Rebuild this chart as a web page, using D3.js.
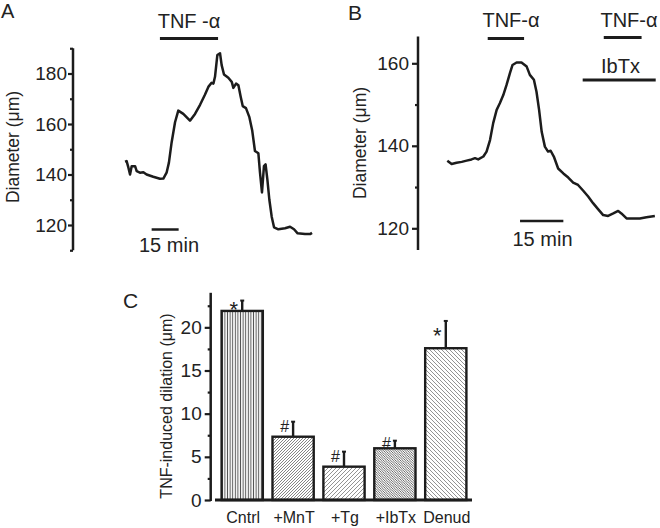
<!DOCTYPE html>
<html>
<head>
<meta charset="utf-8">
<script src="https://cdn.jsdelivr.net/npm/d3@7"></script>
<style>
  body { margin: 0; background: #fff; }
  svg { display: block; font-family: "Liberation Sans", Arial, sans-serif; }
  text { fill: #222; }
</style>
</head>
<body>
<div id="chart"></div>
<script>
// panel A trace: time (min), diameter (um)
var traceA_t = [0, 0.9, 1.9, 2.8, 3.7, 5.6, 6.5, 8.3, 10.2, 12, 15.7, 19.4, 21.3, 23.1, 24.4, 25.9, 27.8, 29.6,
  32.4, 36.1, 38.9, 41.7, 44.4, 46.3, 48.1, 49.1, 50, 51.3, 52.8, 53.7, 55, 57.4, 59.3, 60.2, 61.7, 63,
  64.3, 65.4, 67.2, 69.1, 70.7, 72.2, 74.1, 75, 76.1, 77.2, 78.1, 79.1, 80.2, 81.5, 82.8, 85.2, 88.9,
  91.7, 93.9, 95.9, 100, 102.8, 103.9];
var traceA_v = [145.1, 145.3, 142.7, 140, 143.3, 143.3, 141.3, 140.7, 140.9, 140, 139.1, 138.3, 138.4, 140.7, 144.7, 152.7, 160.7, 165.3,
  164, 161.3, 164, 167.6, 171.6, 174.7, 176.3, 176, 178.7, 187.3, 188, 183.3, 179.6, 178.3, 176.7, 174.3, 176, 175.3,
  170.7, 167.1, 166.3, 162.7, 157.3, 149.3, 148.4, 140.7, 132.9, 143.3, 144, 138, 130, 123.3, 119.1, 118.3, 118.7,
  119.3, 118.3, 116.7, 116.4, 116.4, 116.9];

// panel B trace
var traceB_t = [0, 1.5, 3.2, 5, 6.7, 8.4, 9.6, 10.7, 12.5, 13.6, 14.8, 15.9, 17.1, 18.2, 19.4, 20.5, 21.7, 22.6,
  24, 25.7, 27.5, 28.6, 30, 30.9, 31.8, 32.7, 33.8, 34.9, 35.8, 36.9, 38.4, 40.2, 41.9, 43.6, 45.3, 47.1,
  48.8, 50.5, 52.3, 54, 55.7, 57.5, 59.2, 60.3, 62.1, 64.4, 66.7, 69, 71.9];
var traceB_v = [136.4, 135.6, 135.9, 136.1, 136.4, 136.7, 137, 136.7, 137.4, 138.6, 141.4, 145.5, 148.7, 150.3, 152.3, 154.7, 157.6, 159.6,
  160.2, 160.2, 159.2, 157.2, 156, 153.1, 148.7, 143.4, 139.8, 138.6, 138.8, 137.4, 134.5, 133.3, 132.3, 131.1, 130.5, 129.1,
  127.7, 126.1, 124.6, 123.2, 123, 123.6, 124.2, 123.6, 122.4, 122.4, 122.4, 122.7, 123];

// drug application windows (min)
var tnfA = [19.4, 51.7];
var tnfB1 = [14, 26.6];
var tnfB2 = [54.2, 67.3];
var ibtxB = [46.9, 72.2];
var scaleBarA = [14.8, 29.8];
var scaleBarB = [25.2, 40.2];

// panel C bars
var groups = ["Cntrl", "+MnT", "+Tg", "+IbTx", "Denud"];
var means = [21.9, 7.33, 3.86, 5.99, 17.58];
var errs = [1.2, 1.74, 1.74, 0.88, 3.16];
var marks = ["*", "#", "#", "#", "*"];
var fills = ["pVert", "pFwd", "pFwdWide", "pBack", "pBackWide"];

var ink = "#1c1c1c";

var svg = d3.select("#chart").append("svg")
  .attr("width", 660).attr("height", 528);

// hatch patterns
var defs = svg.append("defs");
function hatch(id, size, d, w, col) {
  var p = defs.append("pattern").attr("id", id)
    .attr("patternUnits", "userSpaceOnUse")
    .attr("width", size).attr("height", size);
  p.append("rect").attr("width", size).attr("height", size).attr("fill", "#fff");
  p.append("path").attr("d", d).attr("stroke", col).attr("stroke-width", w);
}
hatch("pVert", 2.6, "M1.3,0V2.6", 1, "#555");
hatch("pFwd", 3, "M0,3L3,0M-1,1L1,-1M2,4L4,2", 0.8, "#666");
hatch("pFwdWide", 4, "M0,4L4,0M-1,1L1,-1M3,5L5,3", 0.8, "#777");
hatch("pBack", 2.4, "M0,0L2.4,2.4M-1,1.4L1,3.4M1.4,-1L3.4,1", 0.8, "#444");
hatch("pBackWide", 4, "M0,0L4,4M-1,3L1,5M3,-1L5,1", 0.8, "#777");

function styleAxis(g) {
  g.selectAll(".domain").remove();
  g.selectAll("line").attr("stroke", ink).attr("stroke-width", 2.2);
  g.selectAll("text").attr("fill", "#222");
}

// ---------- panel A ----------
var xA = d3.scaleLinear().domain([0, 15]).range([125, 152]);
var yA = d3.scaleLinear().domain([120, 180]).range([225, 73.5]);

svg.append("line").attr("x1", 73).attr("x2", 73)
  .attr("y1", yA(110)).attr("y2", yA(190))
  .attr("stroke", ink).attr("stroke-width", 2.5);
svg.append("g").attr("transform", "translate(73,0)")
  .call(d3.axisLeft(yA).tickValues([120, 140, 160, 180]).tickSize(5).tickPadding(1))
  .attr("font-size", 19).attr("font-family", null)
  .call(styleAxis);
svg.append("g").attr("transform", "translate(73,0)")
  .call(d3.axisLeft(yA).tickValues([110, 130, 150, 170, 190]).tickSize(3).tickFormat(""))
  .call(styleAxis);

svg.append("path")
  .attr("d", d3.line().x(function (d, i) { return xA(traceA_t[i]); })
    .y(function (d) { return yA(d); })(traceA_v))
  .attr("fill", "none").attr("stroke", ink).attr("stroke-width", 2.5)
  .attr("stroke-linejoin", "round");

svg.append("line").attr("x1", xA(tnfA[0])).attr("x2", xA(tnfA[1]))
  .attr("y1", 38.5).attr("y2", 38.5).attr("stroke", ink).attr("stroke-width", 3);
svg.append("text").attr("x", 189).attr("y", 28).attr("text-anchor", "middle")
  .attr("font-size", 20).text("TNF -α");

svg.append("line").attr("x1", xA(scaleBarA[0])).attr("x2", xA(scaleBarA[1]))
  .attr("y1", 229.5).attr("y2", 229.5).attr("stroke", ink).attr("stroke-width", 2.5);
svg.append("text").attr("x", 169).attr("y", 252).attr("text-anchor", "middle")
  .attr("font-size", 20).text("15 min");

svg.append("text").attr("transform", "translate(19,147) rotate(-90)")
  .attr("text-anchor", "middle").attr("font-size", 17.5).text("Diameter (μm)");
svg.append("text").attr("x", 1).attr("y", 18).attr("font-size", 20).text("A");

// ---------- panel B ----------
var xB = d3.scaleLinear().domain([0, 15]).range([447.3, 490.6]);
var yB = d3.scaleLinear().domain([120, 160]).range([228.3, 63.3]);

svg.append("line").attr("x1", 418).attr("x2", 418)
  .attr("y1", 36.5).attr("y2", 250)
  .attr("stroke", ink).attr("stroke-width", 2.5);
svg.append("g").attr("transform", "translate(418,0)")
  .call(d3.axisLeft(yB).tickValues([120, 140, 160]).tickSize(6).tickPadding(3))
  .attr("font-size", 19).attr("font-family", null)
  .call(styleAxis);
svg.append("g").attr("transform", "translate(418,0)")
  .call(d3.axisLeft(yB).tickValues([130, 150]).tickSize(3).tickFormat(""))
  .call(styleAxis);

svg.append("path")
  .attr("d", d3.line().x(function (d, i) { return xB(traceB_t[i]); })
    .y(function (d) { return yB(d); })(traceB_v))
  .attr("fill", "none").attr("stroke", ink).attr("stroke-width", 2.5)
  .attr("stroke-linejoin", "round");

svg.append("line").attr("x1", xB(tnfB1[0])).attr("x2", xB(tnfB1[1]))
  .attr("y1", 38.5).attr("y2", 38.5).attr("stroke", ink).attr("stroke-width", 3);
svg.append("text").attr("x", 511).attr("y", 27).attr("text-anchor", "middle")
  .attr("font-size", 20).text("TNF-α");
svg.append("line").attr("x1", xB(tnfB2[0])).attr("x2", xB(tnfB2[1]))
  .attr("y1", 37.5).attr("y2", 37.5).attr("stroke", ink).attr("stroke-width", 3);
svg.append("text").attr("x", 629).attr("y", 27).attr("text-anchor", "middle")
  .attr("font-size", 20).text("TNF-α");
svg.append("line").attr("x1", xB(ibtxB[0])).attr("x2", xB(ibtxB[1]))
  .attr("y1", 80).attr("y2", 80).attr("stroke", ink).attr("stroke-width", 3);
svg.append("text").attr("x", 620.5).attr("y", 73).attr("text-anchor", "middle")
  .attr("font-size", 20).text("IbTx");

svg.append("line").attr("x1", xB(scaleBarB[0])).attr("x2", xB(scaleBarB[1]))
  .attr("y1", 221).attr("y2", 221).attr("stroke", ink).attr("stroke-width", 2.5);
svg.append("text").attr("x", 542.5).attr("y", 246).attr("text-anchor", "middle")
  .attr("font-size", 20).text("15 min");

svg.append("text").attr("transform", "translate(366,143) rotate(-90)")
  .attr("text-anchor", "middle").attr("font-size", 17.5).text("Diameter (μm)");
svg.append("text").attr("x", 348).attr("y", 19.5).attr("font-size", 21).text("B");

// ---------- panel C ----------
var xC = d3.scaleBand().domain(groups).range([216, 472])
  .paddingInner(0.19).paddingOuter(0.11);
var yC = d3.scaleLinear().domain([0, 24]).range([500, 292.8]);

svg.append("line").attr("x1", 210.7).attr("x2", 210.7)
  .attr("y1", yC(24)).attr("y2", yC(0) + 1)
  .attr("stroke", ink).attr("stroke-width", 2.5);
svg.append("g").attr("transform", "translate(210.7,0)")
  .call(d3.axisLeft(yC).tickValues([0, 5, 10, 15, 20]).tickSize(6).tickPadding(3))
  .attr("font-size", 19).attr("font-family", null)
  .call(styleAxis);
svg.append("g").attr("transform", "translate(210.7,0)")
  .call(d3.axisLeft(yC).tickValues([2.5, 7.5, 12.5, 17.5, 22.5]).tickSize(3).tickFormat(""))
  .call(styleAxis);

var bars = svg.append("g").selectAll("g").data(groups).enter().append("g");

bars.append("line")
  .attr("x1", function (d) { return xC(d) + xC.bandwidth() / 2; })
  .attr("x2", function (d) { return xC(d) + xC.bandwidth() / 2; })
  .attr("y1", function (d, i) { return yC(means[i]); })
  .attr("y2", function (d, i) { return yC(means[i] + errs[i]); })
  .attr("stroke", ink).attr("stroke-width", 2.4);
bars.append("line")
  .attr("x1", function (d) { return xC(d) + xC.bandwidth() / 2 - 2; })
  .attr("x2", function (d) { return xC(d) + xC.bandwidth() / 2 + 2; })
  .attr("y1", function (d, i) { return yC(means[i] + errs[i]); })
  .attr("y2", function (d, i) { return yC(means[i] + errs[i]); })
  .attr("stroke", ink).attr("stroke-width", 2);

bars.append("rect")
  .attr("x", function (d) { return xC(d); })
  .attr("width", xC.bandwidth())
  .attr("y", function (d, i) { return yC(means[i]); })
  .attr("height", function (d, i) { return yC(0) - yC(means[i]); })
  .attr("fill", function (d, i) { return "url(#" + fills[i] + ")"; })
  .attr("stroke", ink).attr("stroke-width", 2.4);

bars.append("text")
  .attr("x", function (d) { return xC(d) + xC.bandwidth() / 2 - 8.5; })
  .attr("y", function (d, i) { return yC(means[i] + errs[i] * 0.7); })
  .attr("dy", function (d, i) { return marks[i] == "*" ? "0.62em" : "0.36em"; })
  .attr("text-anchor", "middle")
  .attr("font-size", function (d, i) { return marks[i] == "*" ? 22 : 16; })
  .text(function (d, i) { return marks[i]; });

svg.append("line").attr("x1", 215).attr("x2", 472)
  .attr("y1", 500).attr("y2", 500).attr("stroke", ink).attr("stroke-width", 3);

svg.append("g").selectAll("text").data(groups).enter().append("text")
  .attr("x", function (d) { return xC(d) + xC.bandwidth() / 2 + 1; })
  .attr("y", 523)
  .attr("text-anchor", "middle").attr("font-size", 16)
  .text(function (d) { return d; });

svg.append("text").attr("transform", "translate(172,406) rotate(-90)")
  .attr("text-anchor", "middle").attr("font-size", 16).text("TNF-induced dilation (μm)");
svg.append("text").attr("x", 123).attr("y", 308).attr("font-size", 21).text("C");
</script>
</body>
</html>
